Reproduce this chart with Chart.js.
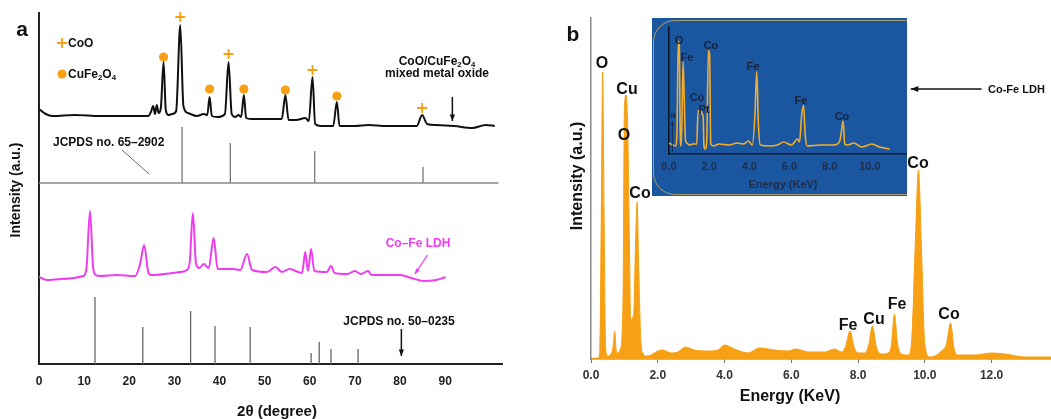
<!DOCTYPE html>
<html>
<head>
<meta charset="utf-8">
<script src="https://cdn.jsdelivr.net/npm/chart.js@4.4.1/dist/chart.umd.min.js"></script>
<style>
  html, body { margin: 0; padding: 0; background: #fff; }
  #wrap { position: relative; width: 1051px; height: 419px; overflow: hidden;
          font-family: 'Liberation Sans', Arial, sans-serif; font-weight: bold; color: #111; }
  canvas { position: absolute; }
  .t { position: absolute; white-space: nowrap; transform: translate(-50%, -50%); line-height: 1; }
  .l { position: absolute; white-space: nowrap; transform: translateY(-50%); line-height: 1; }
  .r { position: absolute; white-space: nowrap; transform: translate(-50%, -50%) rotate(-90deg); line-height: 1; }
  sub { font-size: 0.65em; vertical-align: -0.25em; line-height: 0; }
  #inset { position: absolute; left: 652px; top: 18px; width: 255px; height: 178px; background: #1b57a1; overflow: hidden; }
  #inset .frame { position: absolute; left: 1px; top: 2px; width: 300px; height: 175px;
                  border: 1px solid rgba(214, 182, 104, 0.75); border-radius: 22px; box-sizing: border-box; }
  #inset .t { color: #16243e; font-size: 11px; }
</style>
</head>
<body>
<div id="wrap">
  <canvas id="xrdChart" width="525" height="419" style="left:0;top:0;"></canvas>
  <canvas id="edsChart" width="511" height="419" style="left:540px;top:0;"></canvas>

  <!-- panel a text -->
  <div class="t" style="left:22px;top:28px;font-size:21px;">a</div>
  <div class="r" style="left:15px;top:190px;font-size:14px;">Intensity (a.u.)</div>
  <div class="t" style="left:277px;top:410px;font-size:15px;">2θ (degree)</div>
  <div class="l" style="left:68px;top:43px;font-size:12px;">CoO</div>
  <div class="l" style="left:68px;top:74px;font-size:12px;">CuFe<sub>2</sub>O<sub>4</sub></div>
  <div class="t" style="left:437px;top:61px;font-size:12px;">CoO/CuFe<sub>2</sub>O<sub>4</sub></div>
  <div class="t" style="left:437px;top:73px;font-size:12px;">mixed metal oxide</div>
  <div class="l" style="left:53px;top:142px;font-size:12px;">JCPDS no. 65–2902</div>
  <div class="t" style="left:418px;top:243px;font-size:12px;color:#f03cf0;">Co–Fe LDH</div>
  <div class="t" style="left:399px;top:321px;font-size:12px;">JCPDS no. 50–0235</div>

  <!-- panel b text -->
  <div class="t" style="left:573px;top:33px;font-size:21px;">b</div>
  <div class="r" style="left:577px;top:176px;font-size:16px;">Intensity (a.u.)</div>
  <div class="t" style="left:790px;top:396px;font-size:16px;">Energy (KeV)</div>
  <div class="t" style="left:602px;top:63px;font-size:16px;">O</div>
  <div class="t" style="left:627px;top:89px;font-size:16px;">Cu</div>
  <div class="t" style="left:624px;top:135px;font-size:16px;">O</div>
  <div class="t" style="left:640px;top:193px;font-size:16px;">Co</div>
  <div class="t" style="left:918px;top:163px;font-size:16px;">Co</div>
  <div class="t" style="left:848px;top:325px;font-size:16px;">Fe</div>
  <div class="t" style="left:874px;top:319px;font-size:16px;">Cu</div>
  <div class="t" style="left:897px;top:304px;font-size:16px;">Fe</div>
  <div class="t" style="left:949px;top:314px;font-size:16px;">Co</div>
  <div class="l" style="left:988px;top:89px;font-size:11px;">Co-Fe LDH</div>

  <div id="inset">
    <div class="frame"></div>
    <canvas id="insetChart" width="255" height="178" style="left:0;top:0;"></canvas>
    <div class="t" style="left:27px;top:22px;">O</div>
    <div class="t" style="left:35px;top:39px;">Fe</div>
    <div class="t" style="left:59px;top:27px;">Co</div>
    <div class="t" style="left:45px;top:79px;">Co</div>
    <div class="t" style="left:52px;top:91px;">Pt</div>
    <div class="t" style="left:101px;top:48px;">Fe</div>
    <div class="t" style="left:149px;top:82px;">Fe</div>
    <div class="t" style="left:190px;top:98px;">Co</div>
    <div class="t" style="left:21px;top:97px;font-size:7px;">N</div>
    <div class="t" style="left:131px;top:166px;color:#1e2d4a;">Energy (KeV)</div>
  </div>
</div>

<script>
// ---- panel a: XRD (2theta in degree, stacked intensity in a.u.)
var xTicksA = [0, 10, 20, 30, 40, 50, 60, 70, 80, 90];

var oxideX = [0, 1.5, 3, 8, 13.5, 20, 24.2, 24.8, 25.3, 25.7, 26.1, 26.5, 27.0, 27.6, 28.1, 28.7, 29.5, 30.4, 31.3, 32.0,
              33, 35, 36.5, 37.3, 37.8, 38.3, 39.5, 41.2, 42.0, 42.7, 43.5, 44.2, 44.8, 45.4, 45.9, 47, 50, 53.8, 54.6, 55.3,
              57, 59, 59.8, 60.6, 61.2, 62.5, 65.2, 66.0, 66.6, 70, 73, 77, 83.7, 84.9, 86, 88, 92, 96, 99, 101];
var oxideY = [255, 250, 248, 249, 248, 248, 248, 252, 258, 250, 259, 251, 256, 302, 254, 249, 250, 253, 339, 258,
              251, 248, 250, 249, 267, 248, 247, 250, 302, 250, 247, 249, 247, 269, 246, 245, 245, 245, 269, 244,
              244, 246, 243, 287, 240, 238, 238, 262, 238, 238, 239, 238, 238, 249, 240, 239, 238, 236, 239, 238];

var ldhX = [0, 1.7, 5, 9.8, 10.5, 11.3, 12.0, 12.6, 13.5, 17.2, 21.3, 22.4, 23.3, 24.2, 24.8, 31.3, 32.8, 33.4, 34.1, 34.8,
            35.5, 36.5, 37.6, 38.7, 39.6, 43.1, 44.6, 46.1, 47.2, 50.5, 52.4, 53.8, 55.5, 58.3, 59.0, 59.6, 60.3, 61.0, 63.8, 64.7,
            65.5, 68.3, 70.0, 71.3, 72.9, 73.7, 80.1, 82.5, 85.3, 88, 90.1];
var ldhY = [87, 84, 85, 88, 95, 153, 96, 89, 88, 89, 88, 100, 119, 92, 89, 92, 94, 102, 151, 100,
            96, 100, 96, 126, 95, 95, 94, 110, 94, 92, 97, 92, 95, 91, 112, 93, 115, 93, 92, 98,
            91, 90, 93, 90, 93, 89, 89, 86, 83, 84, 87];

// JCPDS 65-2902 reference lines, drawn on their own baseline
var ref1X = [31.7, 42.4, 61.1, 85.1];
var ref1Y = [237, 221, 213, 197];
var ref1Base = 181;
// JCPDS 50-0235 reference lines
var ref2X = [12.4, 23.0, 33.6, 39.0, 46.8, 60.3, 62.1, 64.7, 70.7];
var ref2Y = [67, 37, 53, 38, 37, 11, 22, 15, 15];

// phase markers above the oxide peaks (+ CoO, dot CuFe2O4), last one is the key
var coMarkX = [31.3, 42.0, 60.6, 84.9, 5.1];
var coMarkY = [347, 310, 294, 256, 321];
var cuMarkX = [27.6, 37.8, 45.4, 54.6, 66.0, 5.1];
var cuMarkY = [307, 275, 275, 274, 268, 290];

// ---- panel b: EDS (energy in keV, counts in a.u.)
var xTicksB = [0, 2, 4, 6, 8, 10, 12];
var edsX = [0, 0.2, 0.26, 0.31, 0.35, 0.39, 0.44, 0.5, 0.6, 0.66, 0.71, 0.75, 0.8, 0.88, 0.96, 1.0, 1.05, 1.1, 1.15, 1.19,
            1.23, 1.28, 1.33, 1.38, 1.43, 1.49, 1.55, 1.65, 1.8, 2.0, 2.15, 2.4, 2.6, 2.83, 3.1, 3.5, 3.8, 4.0, 4.3, 4.7,
            5.05, 5.5, 5.9, 6.15, 6.5, 7.0, 7.3, 7.5, 7.62, 7.76, 7.88, 8.0, 8.2, 8.32, 8.43, 8.55, 8.7, 8.9, 9.0, 9.09,
            9.18, 9.3, 9.5, 9.6, 9.72, 9.81, 9.9, 10.0, 10.15, 10.3, 10.5, 10.65, 10.77, 10.88, 11.0, 11.5, 12.0, 12.4, 13.0, 13.8];
var edsY = [0, 1, 5, 150, 287, 150, 10, 3, 5, 12, 28, 10, 6, 10, 60, 250, 264, 230, 120, 35,
            41, 45, 110, 157, 90, 20, 6, 3, 4, 8, 9, 6, 7, 12, 9, 8, 9, 14, 10, 6,
            11, 9, 8, 10, 7, 7, 10, 7, 12, 28, 12, 6, 6, 14, 33, 12, 5, 6, 14, 45,
            16, 5, 4, 15, 120, 189, 110, 15, 2, 3, 8, 15, 36, 10, 4, 4, 6, 5, 2, 2];

// inset: Co-Fe LDH EDS
var xTicksC = [0, 2, 4, 6, 8, 10];
var insetX = [0, 0.2, 0.33, 0.4, 0.46, 0.51, 0.56, 0.6, 0.64, 0.7, 0.76, 0.82, 0.9, 1.0, 1.2, 1.38, 1.45, 1.52, 1.58, 1.65,
              1.7, 1.74, 1.8, 1.88, 1.96, 2.02, 2.08, 2.2, 2.5, 3.0, 3.4, 3.7, 3.95, 4.15, 4.28, 4.37, 4.45, 4.55, 5.0, 5.4,
              5.7, 6.1, 6.4, 6.5, 6.6, 6.7, 6.78, 6.88, 7.5, 8.2, 8.5, 8.6, 8.67, 8.75, 8.9, 9.2, 9.6, 10.1, 10.5, 11.0];
var insetY = [11, 9, 8, 25, 113, 110, 20, 8, 30, 93, 55, 14, 11, 9, 10, 10, 44, 43, 44, 40,
              38, 8, 5, 14, 104, 100, 10, 8, 10, 9, 11, 10, 13, 9, 40, 83, 30, 9, 8, 9,
              12, 9, 15, 12, 38, 49, 20, 8, 9, 9, 13, 25, 33, 10, 9, 11, 7, 10, 7, 5];

var ORANGE = '#f7a014';
var FONT = "'Liberation Sans', Arial, sans-serif";

function pts(xs, ys) {
  return xs.map(function (v, i) { return { x: v, y: ys[i] }; });
}
function sticks(xs, ys, base) {
  var out = [];
  xs.forEach(function (v, i) {
    out.push({ x: v, y: base }, { x: v, y: ys[i] }, { x: v, y: null });
  });
  return out;
}

// arrows and thin pointer lines, given in data units of the chart they sit on
var arrowPlugin = {
  id: 'arrows',
  afterDatasetsDraw: function (chart, args, opts) {
    var ctx = chart.ctx, sx = chart.scales.x, sy = chart.scales.y;
    ctx.save();
    (opts.items || []).forEach(function (a) {
      var x1 = sx.getPixelForValue(a.x1), y1 = sy.getPixelForValue(a.y1);
      var x2 = sx.getPixelForValue(a.x2), y2 = sy.getPixelForValue(a.y2);
      ctx.strokeStyle = a.color; ctx.fillStyle = a.color; ctx.lineWidth = a.w;
      ctx.beginPath(); ctx.moveTo(x1, y1); ctx.lineTo(x2, y2); ctx.stroke();
      if (a.head) {
        var ang = Math.atan2(y2 - y1, x2 - x1), h = a.head;
        ctx.beginPath();
        ctx.moveTo(x2, y2);
        ctx.lineTo(x2 - h * Math.cos(ang - 0.38), y2 - h * Math.sin(ang - 0.38));
        ctx.lineTo(x2 - h * Math.cos(ang + 0.38), y2 - h * Math.sin(ang + 0.38));
        ctx.closePath(); ctx.fill();
      }
    });
    ctx.restore();
  }
};

var common = {
  responsive: false,
  animation: false,
  devicePixelRatio: 1,
  elements: { point: { radius: 0 } }
};

//-------------- panel a
new Chart(document.getElementById('xrdChart').getContext('2d'), {
  type: 'line',
  plugins: [arrowPlugin],
  data: {
    datasets: [
      { data: pts(oxideX, oxideY), borderColor: '#111', borderWidth: 2, cubicInterpolationMode: 'monotone', pointRadius: 0 },
      { data: pts(ldhX, ldhY), borderColor: '#f03cf0', borderWidth: 2, cubicInterpolationMode: 'monotone', pointRadius: 0 },
      { data: [{ x: 0, y: ref1Base }, { x: 101.8, y: ref1Base }], borderColor: '#888', borderWidth: 1.5, pointRadius: 0 },
      { data: sticks(ref1X, ref1Y, ref1Base), borderColor: '#777', borderWidth: 1.3, pointRadius: 0, spanGaps: false },
      { data: sticks(ref2X, ref2Y, 0), borderColor: '#666', borderWidth: 1.3, pointRadius: 0, spanGaps: false },
      { data: pts(coMarkX, coMarkY), showLine: false, pointStyle: 'cross', pointRadius: 5, borderWidth: 1.8,
        borderColor: ORANGE, pointBorderColor: ORANGE, clip: false },
      { data: pts(cuMarkX, cuMarkY), showLine: false, pointStyle: 'circle', pointRadius: 4.6, borderWidth: 0,
        pointBackgroundColor: ORANGE, backgroundColor: ORANGE, clip: false }
    ]
  },
  options: Object.assign({}, common, {
    layout: { padding: { top: 13, right: 23, left: 0, bottom: 0 } },
    plugins: {
      legend: { display: false }, tooltip: { enabled: false },
      arrows: { items: [
        { x1: 91.6, y1: 267, x2: 91.6, y2: 243, color: '#111', w: 1.5, head: 7 },
        { x1: 18.4, y1: 214, x2: 24.4, y2: 190, color: '#444', w: 0.8, head: 0 },
        { x1: 86.1, y1: 109, x2: 83.3, y2: 90, color: '#f03cf0', w: 1.3, head: 6 },
        { x1: 80.3, y1: 35, x2: 80.3, y2: 8, color: '#111', w: 1.5, head: 7 }
      ] }
    },
    scales: {
      x: {
        type: 'linear', min: 0, max: 102.6,
        grid: { display: false, drawTicks: false },
        border: { display: true, color: '#222', width: 2 },
        ticks: { padding: 10, color: '#222', font: { family: FONT, size: 12, weight: 'bold' },
                 callback: function (v) { return v; } },
        afterBuildTicks: function (s) { s.ticks = xTicksA.map(function (v) { return { value: v }; }); },
        afterFit: function (s) { s.height = 55; }
      },
      y: {
        min: 0, max: 351,
        grid: { display: false },
        border: { display: true, color: '#222', width: 2 },
        ticks: { display: false },
        afterFit: function (s) { s.width = 39; }
      }
    }
  })
});

//-------------- panel b
new Chart(document.getElementById('edsChart').getContext('2d'), {
  type: 'line',
  plugins: [arrowPlugin],
  data: {
    datasets: [
      { data: pts(edsX, edsY), borderColor: ORANGE, backgroundColor: ORANGE, borderWidth: 1,
        fill: 'origin', cubicInterpolationMode: 'monotone', pointRadius: 0 }
    ]
  },
  options: Object.assign({}, common, {
    layout: { padding: { top: 18, right: 0, left: 0, bottom: 0 } },
    plugins: {
      legend: { display: false }, tooltip: { enabled: false },
      arrows: { items: [
        { x1: 11.7, y1: 270, x2: 9.58, y2: 270, color: '#111', w: 1.5, head: 8 }
      ] }
    },
    scales: {
      x: {
        type: 'linear', min: 0, max: 13.78,
        grid: { display: true, drawOnChartArea: false, drawTicks: true, tickLength: 4, color: '#777' },
        border: { display: true, color: '#777', width: 1.5 },
        ticks: { padding: 5, color: '#333', font: { family: FONT, size: 12, weight: 'bold' },
                 callback: function (v) { return v.toFixed(1); } },
        afterBuildTicks: function (s) { s.ticks = xTicksB.map(function (v) { return { value: v }; }); },
        afterFit: function (s) { s.height = 60; }
      },
      y: {
        min: 0, max: 341,
        grid: { display: false },
        border: { display: true, color: '#888', width: 1.5 },
        ticks: { display: false },
        afterFit: function (s) { s.width = 51; }
      }
    }
  })
});

//-------------- inset
new Chart(document.getElementById('insetChart').getContext('2d'), {
  type: 'line',
  plugins: [arrowPlugin],
  data: {
    datasets: [
      { data: pts(insetX, insetY), borderColor: '#f2ac2c', borderWidth: 1.6,
        cubicInterpolationMode: 'monotone', pointRadius: 0 }
    ]
  },
  options: Object.assign({}, common, {
    layout: { padding: { top: 9, right: 1, left: 0, bottom: 0 } },
    plugins: {
      legend: { display: false }, tooltip: { enabled: false },
      arrows: { items: [
        { x1: 0.17, y1: 2, x2: 0.17, y2: 33, color: '#16243e', w: 0.8, head: 4 }
      ] }
    },
    scales: {
      x: {
        type: 'linear', min: 0, max: 11.8,
        grid: { display: false, drawTicks: false },
        border: { display: true, color: '#0d1626', width: 1.6 },
        ticks: { padding: 6, color: '#1e2d4a', font: { family: FONT, size: 11, weight: 'bold' },
                 callback: function (v) { return v.toFixed(1); } },
        afterBuildTicks: function (s) { s.ticks = xTicksC.map(function (v) { return { value: v }; }); },
        afterFit: function (s) { s.height = 42; }
      },
      y: {
        min: 0, max: 127.6,
        grid: { display: false },
        border: { display: true, color: '#0d1626', width: 1.6 },
        ticks: { display: false },
        afterFit: function (s) { s.width = 17; }
      }
    }
  })
});
</script>
</body>
</html>
